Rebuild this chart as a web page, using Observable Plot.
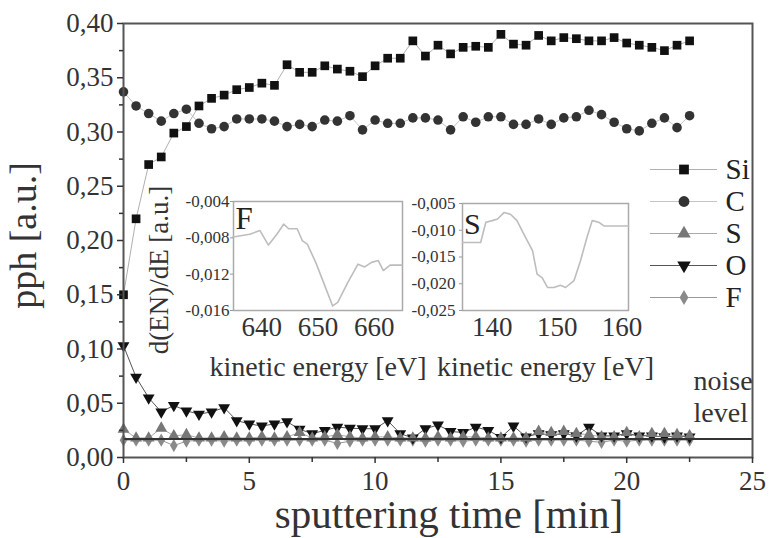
<!DOCTYPE html>
<html><head><meta charset="utf-8">
<script src="https://cdn.jsdelivr.net/npm/d3@7"></script>
<script src="https://cdn.jsdelivr.net/npm/@observablehq/plot@0.6"></script>
<style>
body{margin:0;background:#fff;}
#wrap{position:relative;width:771px;height:538px;overflow:hidden;background:#fff;}
#wrap svg{overflow:visible;}
</style></head><body><div id="wrap"></div>
<script>
// ---------- data ----------
const times = [0,0.5,1,1.5,2,2.5,3,3.5,4,4.5,5,5.5,6,6.5,7,7.5,8,8.5,9,9.5,10,10.5,11,11.5,12,12.5,13,13.5,14,14.5,15,15.5,16,16.5,17,17.5,18,18.5,19,19.5,20,20.5,21,21.5,22,22.5];
const si = [0.150,0.220,0.270,0.277,0.299,0.305,0.324,0.331,0.334,0.339,0.341,0.345,0.343,0.362,0.355,0.355,0.361,0.358,0.356,0.351,0.361,0.368,0.368,0.384,0.370,0.380,0.372,0.378,0.379,0.378,0.390,0.381,0.380,0.389,0.384,0.387,0.386,0.384,0.384,0.387,0.382,0.380,0.378,0.375,0.380,0.384];
const c  = [0.337,0.324,0.317,0.310,0.317,0.321,0.308,0.303,0.305,0.312,0.312,0.312,0.310,0.305,0.307,0.305,0.311,0.310,0.315,0.302,0.311,0.308,0.308,0.313,0.313,0.311,0.302,0.314,0.309,0.314,0.314,0.307,0.307,0.312,0.307,0.313,0.314,0.320,0.316,0.309,0.303,0.301,0.308,0.313,0.304,0.315];
const s  = [0.026,0.018,0.018,0.027,0.020,0.021,0.018,0.018,0.019,0.018,0.018,0.019,0.018,0.019,0.023,0.018,0.019,0.021,0.019,0.018,0.019,0.019,0.018,0.018,0.018,0.019,0.018,0.019,0.019,0.018,0.018,0.018,0.018,0.024,0.023,0.024,0.022,0.021,0.019,0.019,0.023,0.019,0.022,0.022,0.021,0.020];
const o  = [0.103,0.074,0.055,0.042,0.048,0.043,0.040,0.042,0.046,0.034,0.031,0.029,0.031,0.033,0.026,0.022,0.025,0.028,0.027,0.0265,0.0265,0.034,0.022,0.018,0.0265,0.030,0.024,0.023,0.028,0.025,0.0185,0.029,0.019,0.022,0.021,0.022,0.020,0.028,0.020,0.020,0.022,0.020,0.020,0.019,0.020,0.019];
const f  = [0.016,0.016,0.016,0.016,0.011,0.015,0.016,0.016,0.015,0.016,0.016,0.016,0.016,0.016,0.016,0.016,0.016,0.013,0.015,0.016,0.016,0.016,0.016,0.016,0.015,0.016,0.016,0.015,0.016,0.016,0.016,0.016,0.015,0.016,0.016,0.016,0.016,0.015,0.014,0.016,0.015,0.016,0.016,0.016,0.016,0.016];
const noiseLevel = 0.017;
const seriesNames = ["Si","C","S","O","F"];
const xMajorTicks = [0,5,10,15,20,25];
const xMinorTicks = [2.5,7.5,12.5,17.5,22.5];
const yMajorTicks = [0,0.05,0.10,0.15,0.20,0.25,0.30,0.35,0.40];
const yMinorTicks = [0.025,0.075,0.125,0.175,0.225,0.275,0.325,0.375];

// inset F spectrum
const fEnergy = [634.9,637.9,639.7,641.2,642.7,643.9,644.8,646.3,647.2,648.1,649.6,651.1,652.6,653.5,655.3,657.1,658.3,659.5,660.7,661.6,662.8,664.9];
const fSignal = [-0.0079,-0.0076,-0.0072,-0.0088,-0.0076,-0.0065,-0.0070,-0.0070,-0.0083,-0.0087,-0.0107,-0.0131,-0.0155,-0.0151,-0.0129,-0.0109,-0.0112,-0.0107,-0.0105,-0.0116,-0.0110,-0.0110];
const fXTicks = [640,650,660];
const fYTicks = [-0.004,-0.008,-0.012,-0.016];
// inset S spectrum
const sEnergy = [135.4,138.2,139.0,140.0,140.8,141.8,142.8,143.8,145.1,146.2,146.9,147.7,148.5,149.5,150.5,151.3,152.6,153.6,154.6,155.4,156.4,157.2,157.7,161.0];
const sSignal = [-0.0123,-0.0123,-0.0085,-0.0082,-0.0079,-0.0067,-0.0070,-0.0082,-0.0113,-0.0138,-0.0182,-0.0189,-0.0207,-0.0207,-0.0203,-0.0207,-0.0194,-0.0157,-0.0113,-0.0082,-0.0085,-0.0092,-0.0092,-0.0092];
const sXTicks = [140,150,160];
const sYTicks = [-0.005,-0.010,-0.015,-0.020,-0.025];

// ---------- styles ----------
const triangleDown = {
  draw(ctx, size) {
    const y = -Math.sqrt(size / (Math.sqrt(3) * 3));
    ctx.moveTo(0, -y * 2);
    ctx.lineTo(-Math.sqrt(3) * y, y);
    ctx.lineTo(Math.sqrt(3) * y, y);
    ctx.closePath();
  }
};
const styles = {
  Si: {symbol: "square",   r: 4.9, fill: "#111", line: "#b0b0b0", lw: 1},
  C:  {symbol: "circle",   r: 4.8, fill: "#333", line: "#c4c4c4", lw: 1},
  S:  {symbol: "triangle", r: 4.4, fill: "#777", line: "#aaa", lw: 1},
  O:  {symbol: triangleDown, r: 4.4, fill: "#111", line: "#555", lw: 1},
  F:  {symbol: "diamond",  r: 4.0, fill: "#8a8a8a", line: "#999", lw: 1}
};
const values = {Si: si, C: c, S: s, O: o, F: f};
const rows = seriesNames.map(name => times.map((t, i) => ({t, v: values[name][i], name})));
const serif = "'Liberation Serif', 'DejaVu Serif', serif";
const fmt2 = d => d.toFixed(2).replace(".", ",");
const fmt3 = d => d.toFixed(3).replace(".", ",");

const wrap = document.getElementById("wrap");
function place(el, left, top) {
  el.style.position = "absolute";
  el.style.left = left + "px";
  el.style.top = top + "px";
  el.style.overflow = "visible";
  wrap.appendChild(el);
}

// ---------- main chart ----------
const lineMarks = seriesNames.map((n, k) => Plot.line(rows[k], {x: "t", y: "v", stroke: styles[n].line, strokeWidth: styles[n].lw}));
const dotMarks = seriesNames.slice().reverse().map(n => {
  const k = seriesNames.indexOf(n);
  return Plot.dot(rows[k], {x: "t", y: "v", symbol: styles[n].symbol, r: styles[n].r, fill: styles[n].fill, stroke: "none"});
});

const main = Plot.plot({
  width: 771, height: 538,
  marginLeft: 123, marginRight: 19, marginTop: 23, marginBottom: 81,
  style: {fontFamily: serif, fontSize: "27px", color: "#333", background: "white"},
  x: {domain: [0, 25]},
  y: {domain: [0, 0.40]},
  marks: [
    ...lineMarks,
    ...dotMarks,
    Plot.ruleY([noiseLevel], {stroke: "#333", strokeWidth: 2}),
    Plot.frame({stroke: "#555", strokeWidth: 2}),
    Plot.axisX({ticks: xMajorTicks, tickSize: 6, tickPadding: 7, tickFormat: d => String(d), label: null, strokeWidth: 1.5, fontSize: 27, fontFamily: serif}),
    Plot.axisX({ticks: xMinorTicks, tickSize: 5, tickFormat: () => "", label: null, strokeWidth: 1.5}),
    Plot.axisY({ticks: yMajorTicks, tickSize: 6, tickPadding: 4, tickFormat: fmt2, label: null, strokeWidth: 1.5, fontSize: 27, fontFamily: serif}),
    Plot.axisY({ticks: yMinorTicks, tickSize: 4, tickFormat: () => "", label: null, strokeWidth: 1.5}),
    Plot.text(["sputtering time [min]"], {text: d => d, frameAnchor: "bottom", dx: 11, dy: 57, textAnchor: "middle", lineAnchor: "middle", fontSize: 41, fontFamily: serif, fill: "#333"}),
    Plot.text(["pph [a.u.]"], {text: d => d, frameAnchor: "left", dx: -100, dy: -5, rotate: -90, textAnchor: "middle", lineAnchor: "middle", fontSize: 38, fontFamily: serif, fill: "#333"}),
    Plot.text(["noise\nlevel"], {text: d => d, frameAnchor: "bottom-right", dx: -59, dy: -62, textAnchor: "start", lineAnchor: "middle", lineHeight: 1.14, fontSize: 28, fontFamily: serif, fill: "#333"})
  ]
});
place(main, 0, 0);

// ---------- inset F ----------
const fRows = fEnergy.map((e, i) => ({e, v: fSignal[i]}));
const insetF = Plot.plot({
  width: 270, height: 225,
  marginLeft: 93, marginRight: 8, marginTop: 41, marginBottom: 75,
  style: {fontFamily: serif, fontSize: "27px", color: "#333", background: "transparent", overflow: "visible"},
  x: {domain: [635, 665]},
  y: {domain: [-0.016, -0.004]},
  marks: [
    Plot.frame({stroke: "#aaa", strokeWidth: 1.5}),
    Plot.line(fRows, {x: "e", y: "v", stroke: "#bdbdbd", strokeWidth: 1.6}),
    Plot.axisX({ticks: fXTicks, tickSize: 0, tickPadding: 6, label: null, fontSize: 27, fontFamily: serif}),
    Plot.axisY({ticks: fYTicks, tickSize: 3, tickPadding: 1, tickFormat: fmt3, label: null, fontSize: 17, fontFamily: serif, stroke: "#999"}),
    Plot.text(["d(EN)/dE [a.u.]"], {text: d => d, frameAnchor: "left", dx: -74, dy: 14, rotate: -90, textAnchor: "middle", lineAnchor: "middle", fontSize: 27, fontFamily: serif, fill: "#333"}),
    Plot.text(["kinetic energy [eV]"], {text: d => d, frameAnchor: "bottom", dy: 57, textAnchor: "middle", lineAnchor: "middle", fontSize: 28, fontFamily: serif, fill: "#333"}),
    Plot.text(["F"], {text: d => d, frameAnchor: "top-left", dx: 2, dy: 5, textAnchor: "start", lineAnchor: "top", fontSize: 31, fontFamily: serif, fill: "#222"})
  ]
});
place(insetF, 140, 160);

// ---------- inset S ----------
const sRows = sEnergy.map((e, i) => ({e, v: sSignal[i]}));
const insetS = Plot.plot({
  width: 240, height: 225,
  marginLeft: 62, marginRight: 12, marginTop: 43, marginBottom: 75,
  style: {fontFamily: serif, fontSize: "27px", color: "#333", background: "transparent", overflow: "visible"},
  x: {domain: [135.4, 161]},
  y: {domain: [-0.025, -0.005]},
  marks: [
    Plot.frame({stroke: "#aaa", strokeWidth: 1.5}),
    Plot.line(sRows, {x: "e", y: "v", stroke: "#bdbdbd", strokeWidth: 1.6}),
    Plot.axisX({ticks: sXTicks, tickSize: 0, tickPadding: 6, label: null, fontSize: 27, fontFamily: serif}),
    Plot.axisY({ticks: sYTicks, tickSize: 3, tickPadding: 4, tickFormat: fmt3, label: null, fontSize: 17, fontFamily: serif, stroke: "#999"}),
    Plot.text(["kinetic energy [eV]"], {text: d => d, frameAnchor: "bottom", dy: 57, textAnchor: "middle", lineAnchor: "middle", fontSize: 28, fontFamily: serif, fill: "#333"}),
    Plot.text(["S"], {text: d => d, frameAnchor: "top-left", dx: 1.5, dy: 9, textAnchor: "start", lineAnchor: "top", fontSize: 30, fontFamily: serif, fill: "#222"})
  ]
});
place(insetS, 400, 160);

// ---------- legend ----------
const legendMarks = [];
for (const n of seriesNames) {
  legendMarks.push(Plot.ruleY([n], {y: d => d, x1: 0, x2: 1, stroke: styles[n].line, strokeWidth: 1.2}));
  legendMarks.push(Plot.dot([n], {x: 0.5, y: d => d, symbol: styles[n].symbol, r: styles[n].r + 0.6, fill: styles[n].fill, stroke: "none"}));
}
legendMarks.push(Plot.text(seriesNames, {text: d => d, x: 1, y: d => d, dx: 8, textAnchor: "start", fontSize: 29, fontFamily: serif, fill: "#222"}));
const legend = Plot.plot({
  width: 131, height: 165,
  marginLeft: 10, marginRight: 54, marginTop: 18, marginBottom: 18,
  style: {fontFamily: serif, background: "transparent", overflow: "visible"},
  x: {domain: [0, 1], axis: null},
  y: {type: "point", domain: seriesNames, padding: 0, axis: null},
  marks: legendMarks
});
place(legend, 640, 150);
</script></body></html>
